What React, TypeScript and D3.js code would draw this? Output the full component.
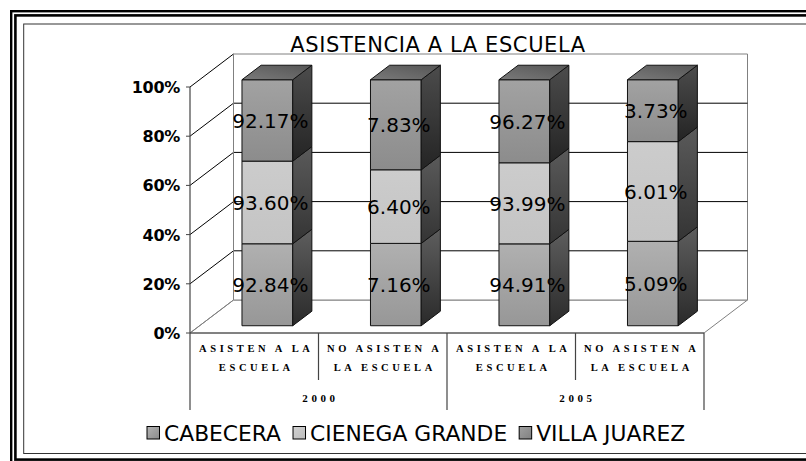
import React from 'react';
import * as d3 from 'd3';

const categoryLines: string[][] = [
  ['ASISTEN A LA', 'ESCUELA'],
  ['NO ASISTEN A', 'LA ESCUELA'],
  ['ASISTEN A LA', 'ESCUELA'],
  ['NO ASISTEN A', 'LA ESCUELA'],
];
const years = ['2000', '2005'];
const seriesNames = ['CABECERA', 'CIENEGA GRANDE', 'VILLA JUAREZ'];
const cabecera = [92.84, 7.16, 94.91, 5.09];
const cienegaGrande = [93.6, 6.4, 93.99, 6.01];
const villaJuarez = [92.17, 7.83, 96.27, 3.73];
const yTicks = [0, 20, 40, 60, 80, 100];
const yTickLabels = ['0%', '20%', '40%', '60%', '80%', '100%'];

const seriesValues = [cabecera, cienegaGrande, villaJuarez];
const frontColors = [['#b0b0b0', '#979797'], ['#cccccc', '#c4c4c4'], ['#a2a2a2', '#8c8c8c']];
const sideColors = [['#5e5e5e', '#2a2a2a'], ['#5a5a5a', '#343434'], ['#4c4c4c', '#242424']];
const legendColors = [['#b4b4b4', '#8a8a8a'], ['#d2d2d2', '#bdbdbd'], ['#a0a0a0', '#808080']];

const W = 806, H = 461;
const X0 = 190, X1 = 704;
const DX = 43.5, DY = 33;
const Z1 = 0.22, Z2 = 0.66;

function fmt(v: number) {
  return v.toFixed(2) + '%';
}

export default function App() {
  const idx = d3.range(categoryLines.length);
  const x = d3.scaleBand<number>().domain(idx).range([X0, X1]).padding(0);
  const y = d3.scaleLinear().domain([0, 100]).range([333, 87]);
  const bw = x.bandwidth();
  const proj = (xv: number, v: number, z: number): [number, number] => [xv + z * DX, y(v) - z * DY];
  const poly = (pts: [number, number][]) => pts.map((p) => p.join(',')).join(' ');

  const table = idx.map((i) => {
    const o: any = { i };
    seriesNames.forEach((s, k) => (o[s] = seriesValues[k][i]));
    return o;
  });
  const stack = d3.stack<any>().keys(seriesNames).offset(d3.stackOffsetExpand);
  const stacked = stack(table);

  // legend layout
  const canvas = typeof document !== 'undefined' ? document.createElement('canvas') : null;
  const ctx = canvas ? canvas.getContext('2d') : null;
  const legendSize = 21.8;
  if (ctx) ctx.font = `${legendSize}px "DejaVu Sans"`;
  let lx = 147;
  const legendItems = seriesNames.map((n, k) => {
    const tw = ctx ? ctx.measureText(n).width : n.length * 14;
    const item = { n, k, sx: lx, tx: lx + 17 };
    lx = lx + 17 + tw + 12;
    return item;
  });

  const bx0 = (i: number) => (x(i) as number) + bw * 0.33;
  const bx1 = (i: number) => bx0(i) + bw * 0.395;

  return (
    <svg width={W} height={H} style={{ position: 'absolute', left: 0, top: 0, background: '#fff' }}>
      <defs>
        {seriesNames.map((s, k) => (
          <linearGradient key={'f' + k} id={'front' + k} x1="0" y1="0" x2="0" y2="1">
            <stop offset="0" stopColor={frontColors[k][0]} />
            <stop offset="1" stopColor={frontColors[k][1]} />
          </linearGradient>
        ))}
        {seriesNames.map((s, k) => (
          <linearGradient key={'s' + k} id={'side' + k} x1="0" y1="0" x2="0" y2="1">
            <stop offset="0" stopColor={sideColors[k][0]} />
            <stop offset="1" stopColor={sideColors[k][1]} />
          </linearGradient>
        ))}
        {seriesNames.map((s, k) => (
          <linearGradient key={'l' + k} id={'leg' + k} x1="0" y1="0" x2="1" y2="1">
            <stop offset="0" stopColor={legendColors[k][0]} />
            <stop offset="1" stopColor={legendColors[k][1]} />
          </linearGradient>
        ))}
        <linearGradient id="topface" x1="0" y1="1" x2="1" y2="0">
          <stop offset="0" stopColor="#7a7a7a" />
          <stop offset="1" stopColor="#555555" />
        </linearGradient>
      </defs>

      {/* frame */}
      <rect x={11.2} y={11.2} width={830} height={470} fill="none" stroke="#000" strokeWidth={2.4} />
      <rect x={15.4} y={15.4} width={830} height={444.2} fill="none" stroke="#000" strokeWidth={2.6} />
      <rect x={23.7} y={24} width={830} height={429.5} fill="none" stroke="#333" strokeWidth={1} />

      {/* title */}
      <text x={438} y={52} textAnchor="middle" fontFamily="DejaVu Sans" fontSize={21} letterSpacing={0.6} fill="#000">
        ASISTENCIA A LA ESCUELA
      </text>

      {/* floor */}
      <polygon
        points={poly([proj(X0, 0, 0), proj(X1, 0, 0), proj(X1, 0, 1), proj(X0, 0, 1)])}
        fill="#fff"
        stroke="#808080"
        strokeWidth={1}
      />
      {/* back wall */}
      <polygon
        points={poly([proj(X0, 0, 1), proj(X1, 0, 1), proj(X1, 100, 1), proj(X0, 100, 1)])}
        fill="#fff"
        stroke="#808080"
        strokeWidth={1}
      />
      {/* gridlines on back wall and left wall */}
      {yTicks.map((t) => {
        const a = proj(X0, t, 0);
        const b = proj(X0, t, 1);
        const c = proj(X1, t, 1);
        return (
          <g key={'g' + t}>
            {t > 0 && t < 100 && <line x1={b[0]} y1={b[1]} x2={c[0]} y2={c[1]} stroke="#000" strokeWidth={1} />}
            <line x1={a[0]} y1={a[1]} x2={b[0]} y2={b[1]} stroke={t === 0 ? '#808080' : '#000'} strokeWidth={1} />
          </g>
        );
      })}
      {/* left wall back edge */}
      <line x1={proj(X0, 0, 1)[0]} y1={proj(X0, 0, 1)[1]} x2={proj(X0, 100, 1)[0]} y2={proj(X0, 100, 1)[1]} stroke="#808080" />

      {/* y axis */}
      <line x1={X0} y1={y(100)} x2={X0} y2={410} stroke="#444" strokeWidth={1.2} />
      <line x1={X0} y1={y(0)} x2={X1} y2={y(0)} stroke="#444" strokeWidth={1.2} />
      {yTicks.map((t, j) => (
        <g key={'t' + t}>
          <line x1={X0 - 4} y1={y(t)} x2={X0} y2={y(t)} stroke="#444" />
          <text
            x={180}
            y={y(t) + 6}
            textAnchor="end"
            fontFamily="DejaVu Sans"
            fontWeight="bold"
            fontSize={16}
            letterSpacing={-0.3}
            fill="#000"
          >
            {yTickLabels[j]}
          </text>
        </g>
      ))}

      {/* category table lines */}
      {idx.map((i) => (
        <line
          key={'c' + i}
          x1={(x(i) as number) + bw}
          y1={y(0)}
          x2={(x(i) as number) + bw}
          y2={i % 2 === 0 ? 380 : 410}
          stroke="#444"
          strokeWidth={1.2}
        />
      ))}
      {idx.map((i) =>
        categoryLines[i].map((ln, r) => (
          <text
            key={'cl' + i + r}
            x={(x(i) as number) + bw / 2 + 2}
            y={351.5 + r * 19.5}
            textAnchor="middle"
            fontFamily="Liberation Serif"
            fontWeight="bold"
            fontSize={10.5}
            letterSpacing={3.6}
            fill="#000"
          >
            {ln}
          </text>
        ))
      )}
      {years.map((yr, k) => (
        <text
          key={'y' + yr}
          x={(x(k * 2) as number) + bw + 2}
          y={401.5}
          textAnchor="middle"
          fontFamily="Liberation Serif"
          fontWeight="bold"
          fontSize={11}
          letterSpacing={3.6}
          fill="#000"
        >
          {yr}
        </text>
      ))}

      {/* bars */}
      {idx.map((i) => (
        <g key={'b' + i}>
          {stacked.map((ser, k) => {
            const v0 = ser[i][0] * 100;
            const v1 = ser[i][1] * 100;
            const front = [proj(bx0(i), v0, Z1), proj(bx1(i), v0, Z1), proj(bx1(i), v1, Z1), proj(bx0(i), v1, Z1)] as [number, number][];
            const side = [proj(bx1(i), v0, Z1), proj(bx1(i), v0, Z2), proj(bx1(i), v1, Z2), proj(bx1(i), v1, Z1)] as [number, number][];
            return (
              <g key={'s' + k}>
                <polygon points={poly(front)} fill={`url(#front${k})`} stroke="#111" strokeWidth={1} strokeLinejoin="round" />
                <polygon points={poly(side)} fill={`url(#side${k})`} stroke="#111" strokeWidth={1} strokeLinejoin="round" />
                {k === stacked.length - 1 && (
                  <polygon
                    points={poly([proj(bx0(i), v1, Z1), proj(bx1(i), v1, Z1), proj(bx1(i), v1, Z2), proj(bx0(i), v1, Z2)])}
                    fill="url(#topface)"
                    stroke="#111"
                    strokeWidth={1}
                    strokeLinejoin="round"
                  />
                )}
              </g>
            );
          })}
        </g>
      ))}
      {/* data labels */}
      {idx.map((i) =>
        stacked.map((ser, k) => {
          const v0 = ser[i][0] * 100;
          const v1 = ser[i][1] * 100;
          const p = proj((bx0(i) + bx1(i)) / 2, (v0 + v1) / 2, Z1);
          return (
            <text
              key={'dl' + i + k}
              x={p[0] + 3}
              y={p[1] + 7.3}
              textAnchor="middle"
              fontFamily="DejaVu Sans"
              fontSize={20}
              fill="#000"
            >
              {fmt(seriesValues[k][i])}
            </text>
          );
        })
      )}

      {/* legend */}
      {legendItems.map((it) => (
        <g key={'lg' + it.k}>
          <rect x={it.sx} y={426.5} width={12.5} height={12.5} fill={`url(#leg${it.k})`} stroke="#000" strokeWidth={1} />
          <text x={it.tx} y={441} fontFamily="DejaVu Sans" fontSize={legendSize} fill="#000">
            {it.n}
          </text>
        </g>
      ))}
    </svg>
  );
}
